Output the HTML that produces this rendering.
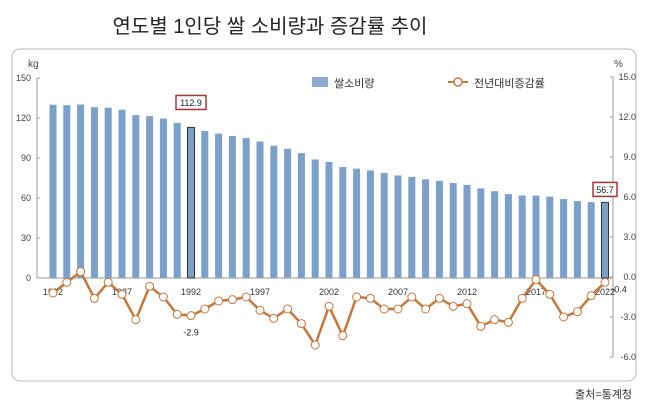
<!DOCTYPE html>
<html><head><meta charset="utf-8"><style>
html,body{margin:0;padding:0;background:#fff;}
body{width:647px;height:408px;overflow:hidden;font-family:"Liberation Sans","Noto Sans CJK KR",sans-serif;}
svg text{font-family:"Liberation Sans","Noto Sans CJK KR",sans-serif;}
</style></head><body>
<svg id="chart" width="647" height="408">
<text x="270" y="33" text-anchor="middle" font-size="20" fill="#222">연도별 1인당 쌀 소비량과 증감률 추이</text>
<rect x="12" y="49" width="624" height="332" rx="8" fill="none" stroke="#bbb"/>
<g id="axes"></g><g id="bars"></g><g id="line"></g>
<g>
<rect x="312" y="77" width="16" height="10" fill="#8fadd3"/>
<text x="334" y="87" font-size="11" fill="#333">쌀소비량</text>
<line x1="448" y1="82" x2="468" y2="82" stroke="#c8773a" stroke-width="2"/>
<circle cx="458" cy="82" r="4" fill="#fff" stroke="#c8773a" stroke-width="1.5"/>
<text x="474" y="87" font-size="11" fill="#333">전년대비증감률</text>
</g>
<text x="632" y="398" text-anchor="end" font-size="11" fill="#333">출처=통계청</text>
</svg>
<script>
const years=[1982,1983,1984,1985,1986,1987,1988,1989,1990,1991,1992,1993,1994,1995,1996,1997,1998,1999,2000,2001,2002,2003,2004,2005,2006,2007,2008,2009,2010,2011,2012,2013,2014,2015,2016,2017,2018,2019,2020,2021,2022];
const consumption=[130.0,129.6,130.1,128.1,127.7,126.2,122.2,121.4,119.6,116.3,112.9,110.2,108.3,106.5,104.9,102.4,99.2,96.9,93.6,88.9,87.0,83.2,82.0,80.7,78.8,76.9,75.8,74.0,72.8,71.2,69.8,67.2,65.1,62.9,61.9,61.8,61.0,59.2,57.7,56.9,56.7];
const changeRate=[-1.2,-0.4,0.4,-1.6,-0.4,-1.3,-3.2,-0.7,-1.5,-2.8,-2.9,-2.4,-1.8,-1.7,-1.5,-2.5,-3.1,-2.4,-3.5,-5.1,-2.2,-4.4,-1.5,-1.6,-2.4,-2.4,-1.5,-2.4,-1.6,-2.2,-2.0,-3.7,-3.2,-3.4,-1.6,-0.2,-1.3,-3.0,-2.6,-1.4,-0.4];
const leftTicks=[0,30,60,90,120,150];
const rightTicks=[15.0,12.0,9.0,6.0,3.0,0.0,-3.0,-6.0];
const yearLabels=[1982,1987,1992,1997,2002,2007,2012,2017,2022];
const highlightYears=[1992,2022];
const NS="http://www.w3.org/2000/svg";
const x=i=>53+i*13.8;
const yL=v=>278-v*(200/150);
const yR=v=>277-v*(200/15);
function mk(tag,attrs,parent,txt){const e=document.createElementNS(NS,tag);for(const k in attrs)e.setAttribute(k,attrs[k]);if(txt!==undefined)e.textContent=txt;parent.appendChild(e);return e;}
const ax=document.getElementById('axes'),bg=document.getElementById('bars'),lg=document.getElementById('line');
let e;
e=mk('line',{x1:37,y1:yL(150),x2:37,y2:yL(0),stroke:'#999'},ax);


e=mk('line',{x1:613,y1:yR(15),x2:613,y2:yR(-6),stroke:'#999'},ax);


e=mk('line',{x1:37,y1:yL(0),x2:613,y2:yL(0),stroke:'#999'},ax);


e=mk('text',{x:28,y:67,'font-size':10,fill:'#444'},ax,'kg');


e=mk('text',{x:614,y:67,'font-size':10,fill:'#444'},ax,'%');


leftTicks.forEach(v=>{const t=mk('text',{x:31,y:yL(v)+3,'font-size':9,fill:'#444','text-anchor':'end'},ax,String(v));


mk('line',{x1:37,y1:yL(v),x2:40,y2:yL(v),stroke:'#999'},ax);});
rightTicks.forEach(v=>{const t=mk('text',{x:636,y:yR(v)+3,'font-size':9,fill:'#444','text-anchor':'end'},ax,v.toFixed(1));


mk('line',{x1:610,y1:yR(v),x2:613,y2:yR(v),stroke:'#999'},ax);});
yearLabels.forEach(yr=>{const i=years.indexOf(yr);const t=mk('text',{x:x(i),y:295,'font-size':9,fill:'#333','text-anchor':'middle'},ax,String(yr));

});
consumption.forEach((v,i)=>{const hl=highlightYears.includes(years[i]);
const r=mk('rect',{x:x(i)-3.5,y:yL(v),width:7,height:yL(0)-yL(v),fill:'#7ba1cb',stroke:hl?'#333':'none','stroke-width':hl?1:0},bg);


if(hl){const last=i===years.length-1;const bx=last?x(i)-12:x(i)-15,by=yL(v)-(last?20:32);
const b=mk('rect',{x:bx,y:by,width:last?24:30,height:14,fill:'#fff',stroke:'#a33',"stroke-width":1.5},bg);


const t=mk('text',{x:bx+(last?12:15),y:by+10.5,'font-size':9,fill:'#222','text-anchor':'middle'},bg,v.toFixed(1));

}});
const pts=changeRate.map((v,i)=>x(i)+','+yR(v)).join(' ');
e=mk('polyline',{points:pts,fill:'none',stroke:'#c8773a','stroke-width':2.5},lg);


changeRate.forEach((v,i)=>{const c=mk('circle',{cx:x(i),cy:yR(v),r:4,fill:'#fff',stroke:'#c8773a','stroke-width':1},lg);

});
[[10,0,20],[40,14,10]].forEach(([i,dx,dy])=>{const t=mk('text',{x:x(i)+dx,y:yR(changeRate[i])+dy,'font-size':9,fill:'#222','text-anchor':'middle'},lg,changeRate[i].toFixed(1));

});
</script>
</body></html>
